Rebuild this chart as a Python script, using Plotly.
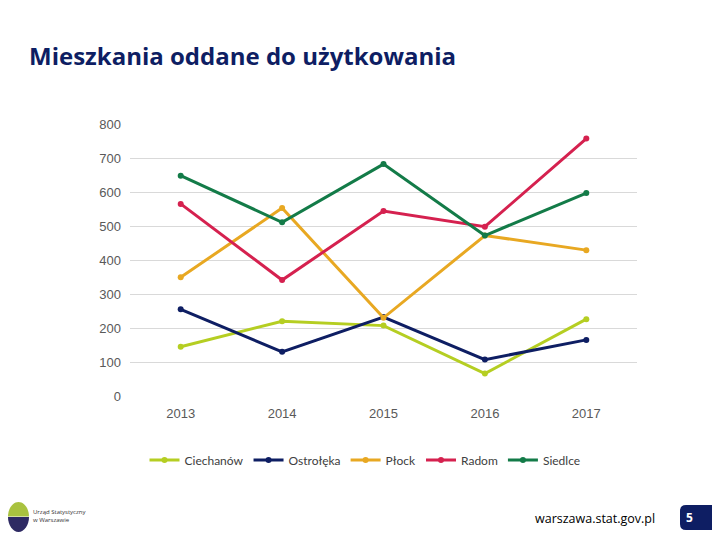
import plotly.graph_objects as go

years = ["2013", "2014", "2015", "2016", "2017"]
ciechanow = [145, 220, 207, 66, 226]
ostroleka = [255, 130, 232, 107, 165]
plock = [349, 553, 230, 472, 429]
radom = [565, 341, 544, 498, 757]
siedlce = [648, 511, 682, 472, 597]

series = [
    ("Ciechanów", ciechanow, "#B5CE22"),
    ("Ostrołęka", ostroleka, "#0E1E63"),
    ("Płock", plock, "#E8A822"),
    ("Radom", radom, "#D5214F"),
    ("Siedlce", siedlce, "#137B48"),
]

OFF = 8  # page body margin
W, H = 712, 532
pl, pr, pt, pb = 130 - OFF, 637 - OFF, 124 - OFF, 396 - OFF

def px(x):
    return (x - OFF - pl) / (pr - pl)

def py(y):
    return (pb - (y - OFF)) / (pb - pt)

fig = go.Figure()
for name, vals, col in series:
    fig.add_trace(go.Scatter(
        x=years, y=vals, name=name, mode="lines+markers",
        line=dict(color=col, width=3),
        marker=dict(color=col, size=6),
    ))

fig.update_layout(
    width=W, height=H,
    margin=dict(l=pl, r=W - pr, t=pt, b=H - pb, pad=0),
    paper_bgcolor="white", plot_bgcolor="white",
    showlegend=True,
    legend=dict(
        orientation="h", x=px(365), xanchor="center", y=py(460), yanchor="middle",
        font=dict(family="Lato, Open Sans, sans-serif", size=12, color="#404040"),
        itemwidth=30, tracegroupgap=0,
    ),
    xaxis=dict(
        type="category", range=[-0.5, 4.5], showgrid=False, zeroline=False,
        showline=False, ticks="",
        tickfont=dict(family="Liberation Sans, Arial, sans-serif", size=13, color="#595959"),
        ticklabelstandoff=8,
    ),
    yaxis=dict(
        range=[0, 800], dtick=100, showgrid=True, gridcolor="#D9D9D9", gridwidth=1,
        zeroline=False, showline=False, ticks="",
        tickfont=dict(family="Liberation Sans, Arial, sans-serif", size=13, color="#595959"),
        ticklabelstandoff=8,
    ),
)

fig.add_annotation(text="<b>Mieszkania oddane do użytkowania</b>",
                   x=px(27), y=py(55), xref="paper", yref="paper",
                   xanchor="left", yanchor="middle", showarrow=False,
                   font=dict(family="Open Sans, sans-serif", size=24, color="#0E1E63"))
fig.add_annotation(text="warszawa.stat.gov.pl",
                   x=px(657), y=py(518), xref="paper", yref="paper",
                   xanchor="right", yanchor="middle", showarrow=False,
                   font=dict(family="Open Sans, sans-serif", size=12.5, color="#000000"))
fig.add_shape(type="path", xref="paper", yref="paper",
              path=f"M {px(720)},{py(505)} L {px(686)},{py(505)} Q {px(680)},{py(505)} {px(680)},{py(511)} "
                   f"L {px(680)},{py(524)} Q {px(680)},{py(530)} {px(686)},{py(530)} L {px(720)},{py(530)} Z",
              fillcolor="#0E1E63", line=dict(width=0))
fig.add_annotation(text="<b>5</b>", x=px(689), y=py(517), xref="paper", yref="paper",
                   xanchor="center", yanchor="middle", showarrow=False,
                   font=dict(family="Open Sans, sans-serif", size=12, color="white"))
# logo: upper green half-disc, lower navy half-disc
cx, r = 18.5, 10.5
ytop, ymid, ybot = 502, 516.5, 532
k = 0.55
fig.add_shape(type="path", xref="paper", yref="paper",
              path=(f"M {px(cx - r)},{py(ymid)} "
                    f"C {px(cx - r)},{py(ymid - (ymid - ytop) * k)} {px(cx - r * k)},{py(ytop)} {px(cx)},{py(ytop)} "
                    f"C {px(cx + r * k)},{py(ytop)} {px(cx + r)},{py(ymid - (ymid - ytop) * k)} {px(cx + r)},{py(ymid)} Z"),
              fillcolor="#A9C23F", line=dict(width=0))
fig.add_shape(type="path", xref="paper", yref="paper",
              path=(f"M {px(cx - r)},{py(ymid + 0.5)} "
                    f"C {px(cx - r)},{py(ymid + (ybot - ymid) * k)} {px(cx - r * k)},{py(ybot)} {px(cx)},{py(ybot)} "
                    f"C {px(cx + r * k)},{py(ybot)} {px(cx + r)},{py(ymid + (ybot - ymid) * k)} {px(cx + r)},{py(ymid + 0.5)} Z"),
              fillcolor="#2E2A63", line=dict(width=0))
fig.add_annotation(text="Urząd Statystyczny<br>w Warszawie", x=px(31), y=py(516),
                   xref="paper", yref="paper", xanchor="left", yanchor="middle",
                   showarrow=False, align="left",
                   font=dict(family="Open Sans, sans-serif", size=6, color="#333333"))

fig.write_html("out.html")
